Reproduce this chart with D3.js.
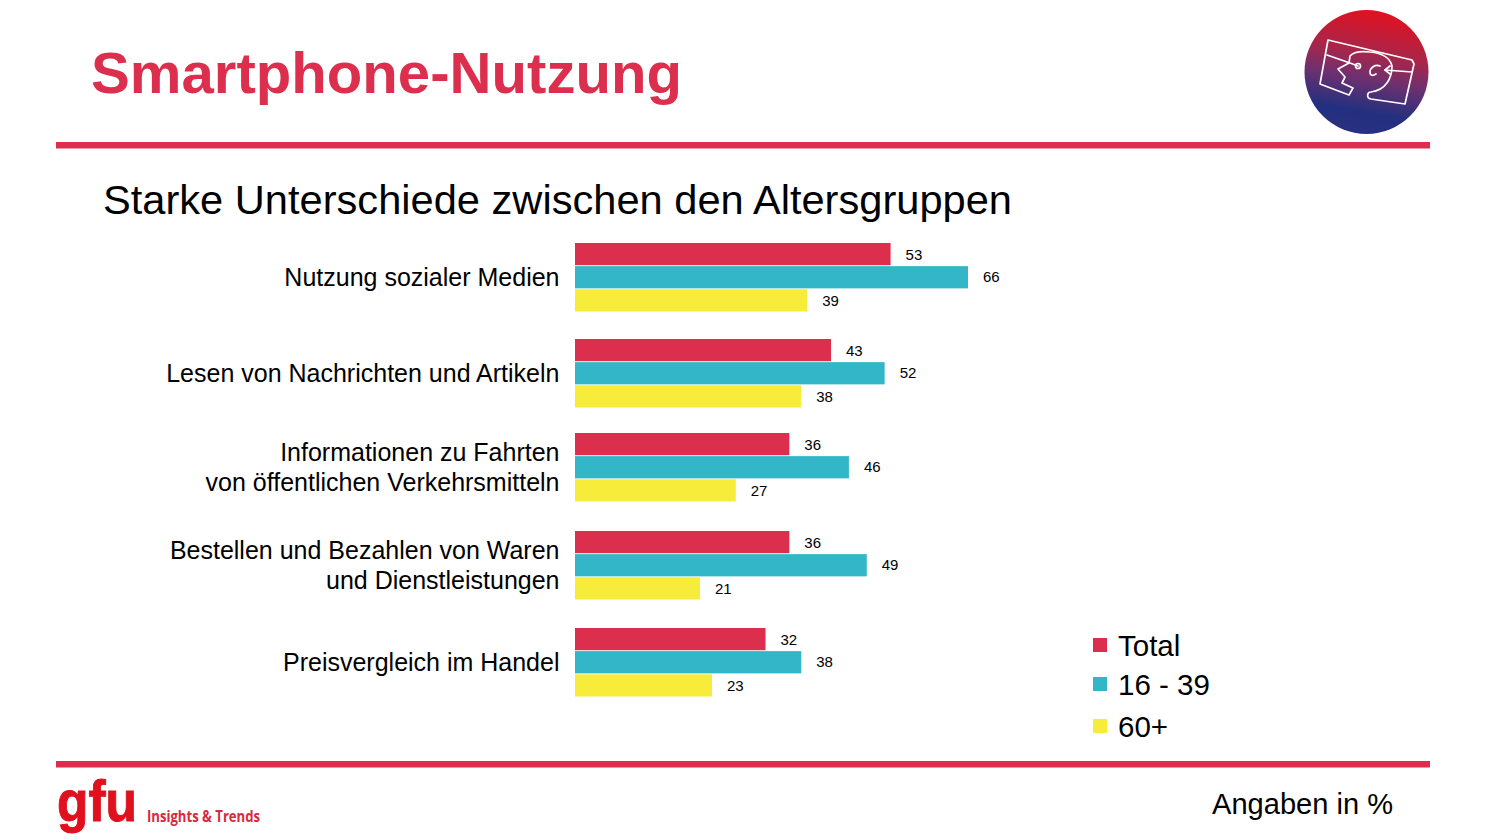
<!DOCTYPE html>
<html><head><meta charset="utf-8">
<script src="https://cdn.jsdelivr.net/npm/d3@7"></script>
<style>html,body{margin:0;padding:0;background:#fff}svg{display:block}text{font-family:"Liberation Sans",Arial,sans-serif}</style>
</head><body><svg id="c" width="1500" height="840"></svg>
<script>
const categories=["Nutzung sozialer Medien","Lesen von Nachrichten und Artikeln","Informationen zu Fahrten|von öffentlichen Verkehrsmitteln","Bestellen und Bezahlen von Waren|und Dienstleistungen","Preisvergleich im Handel"];
const seriesNames=["Total","16 - 39","60+"];
const total=[53,43,36,36,32];
const young=[66,52,46,49,38];
const old=[39,38,27,21,23];
const colors=["#dc2f4e","#33b6c8","#f7ec3a"];
const groupTops=[243,339,433,531,628];
const svg=d3.select("#c");
const x=d3.scaleLinear().domain([0,66]).range([575,968]);
const yGroup=d3.scaleOrdinal().domain(categories).range(groupTops);
const yBar=d3.scaleBand().domain(seriesNames).range([0,68.5]).paddingInner(0.04).paddingOuter(0);
const color=d3.scaleOrdinal().domain(seriesNames).range(colors);
const table=[total,young,old];

// title + rules
svg.append("text").attr("x",91).attr("y",93).attr("font-size",58).attr("font-weight",700).attr("fill","#dc2f4e").attr("textLength",591).attr("lengthAdjust","spacingAndGlyphs").text("Smartphone-Nutzung");
svg.append("rect").attr("x",56).attr("y",142).attr("width",1374).attr("height",6.5).attr("fill","#dc2f4e");
svg.append("rect").attr("x",56).attr("y",761).attr("width",1374).attr("height",6.5).attr("fill","#dc2f4e");
svg.append("text").attr("x",103).attr("y",214).attr("font-size",41).attr("fill","#000").attr("textLength",909).attr("lengthAdjust","spacingAndGlyphs").text("Starke Unterschiede zwischen den Altersgruppen");

// bars
seriesNames.forEach((s,si)=>{
  const g=svg.append("g");
  g.selectAll("rect").data(categories).join("rect")
    .attr("x",x(0)).attr("y",c=>yGroup(c)+yBar(s))
    .attr("width",(c,i)=>x(table[si][i])-x(0)).attr("height",yBar.bandwidth())
    .attr("fill",color(s));
  g.selectAll("text").data(categories).join("text")
    .attr("x",(c,i)=>x(table[si][i])+15).attr("y",c=>yGroup(c)+yBar(s)+yBar.bandwidth()/2+(si===1?4.5:5.5))
    .attr("font-size",15).attr("fill","#000").text((c,i)=>table[si][i]);
});

// category labels
const lab=svg.append("g");
categories.forEach(c=>{
  const lines=c.split("|");
  const mid=yGroup(c)+33.5;
  lines.forEach((l,i)=>{
    lab.append("text").attr("x",559.5).attr("text-anchor","end")
      .attr("y",mid+9+(i-(lines.length-1)/2)*30)
      .attr("font-size",25).attr("fill","#000").text(l);
  });
});

// legend
const legendY=d3.scaleOrdinal().domain(seriesNames).range([645,684,726]);
const leg=svg.append("g");
seriesNames.forEach(s=>{
  leg.append("rect").attr("x",1093).attr("y",legendY(s)-7).attr("width",14).attr("height",14).attr("fill",color(s));
  leg.append("text").attr("x",1118).attr("y",legendY(s)+10.5).attr("font-size",29.5).attr("fill","#000").text(s);
});
svg.append("text").attr("x",1212).attr("y",814).attr("font-size",29.5).attr("fill","#000").attr("textLength",181).attr("lengthAdjust","spacingAndGlyphs").text("Angaben in %");

// footer logo
svg.append("text").attr("x",57).attr("y",821).attr("font-size",58).attr("font-weight",700).attr("fill","#e0101e").attr("stroke","#e0101e").attr("stroke-width",1).attr("textLength",80).attr("lengthAdjust","spacingAndGlyphs").text("gfu");
svg.append("text").attr("x",147).attr("y",822).attr("font-size",15.5).attr("font-weight",700).attr("fill","#d8293f").attr("textLength",113).attr("lengthAdjust","spacingAndGlyphs").style("font-family","'Open Sans'").text("Insights & Trends");

// round emblem
const defs=svg.append("defs");
const grad=defs.append("linearGradient").attr("id","emblem").attr("x1","0.6").attr("y1","0").attr("x2","0.42").attr("y2","1");
[[0,"#e3101f"],[0.35,"#a8264a"],[0.55,"#70306f"],[0.82,"#22307f"],[1,"#2a3080"]].forEach(d=>grad.append("stop").attr("offset",d[0]).attr("stop-color",d[1]));
svg.append("circle").attr("cx",1366.5).attr("cy",72).attr("r",62).attr("fill","url(#emblem)");
const face=svg.append("g").attr("fill","none").attr("stroke","#fff").attr("stroke-width",1.7).attr("stroke-linejoin","round").attr("stroke-linecap","round");
["M1328,40 L1412,60 L1414,64 L1405,104 L1371,99 C1366,98 1367,92 1371,92 C1386,90 1392,78 1392,66 C1390,57 1380,53 1370,52 C1362,51 1354,51 1350,56 L1349,63 L1338,69 L1345,77 L1342,83 L1353,88 L1349,95 L1320,84 Z",
 "M1327,55 L1350,63 M1350,63 L1358,66 M1385,70 L1412,72",
 "M1380,66 C1375,64 1370,68 1370,72 C1370,76 1373,76 1376,74",
 "M1385,70 L1390,66 M1385,70 L1390,74"].forEach(d=>face.append("path").attr("d",d));
face.append("circle").attr("cx",1358).attr("cy",66).attr("r",2.5);
</script></body></html>
